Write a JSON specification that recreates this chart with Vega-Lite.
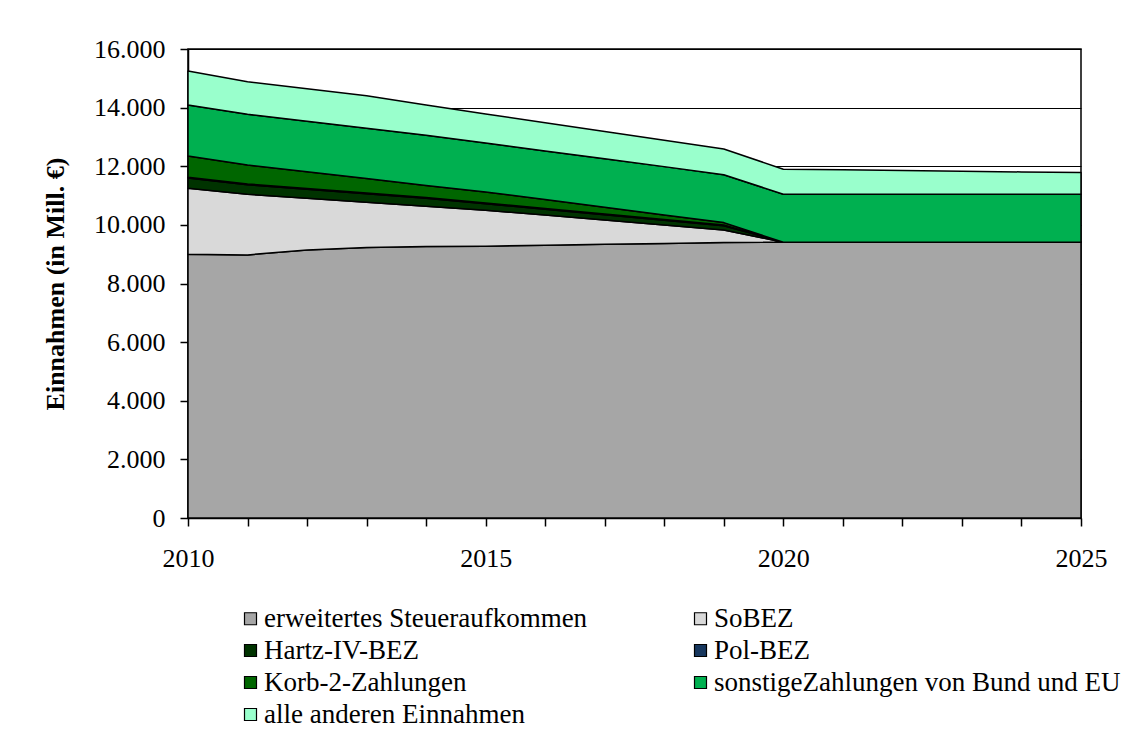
{
  "$schema": "https://vega.github.io/schema/vega-lite/v6.json",
  "width": 893,
  "height": 469,
  "autosize": {"type": "none"},
  "padding": {"left": 188, "top": 49, "right": 51, "bottom": 224},
  "background": "white",
  "config": {
    "locale": {"number": {"decimal": ",", "thousands": ".", "grouping": [3], "currency": ["", " €"]}},
    "view": {"stroke": "black", "strokeWidth": 1.5},
    "font": "Liberation Serif",
    "axis": {
      "labelFont": "Liberation Serif", "labelFontSize": 26, "labelColor": "black",
      "titleFont": "Liberation Serif", "titleFontSize": 26, "titleColor": "black",
      "domainColor": "black", "domainWidth": 1.5, "tickColor": "black", "tickWidth": 1.5, "tickSize": 8,
      "gridColor": "black", "gridWidth": 1.2, "gridOpacity": 1
    },
    "legend": {"labelFont": "Liberation Serif", "labelFontSize": 27, "labelColor": "black"}
  },
  "datasets": {
    "reihen": [
      {"Reihe": "erweitertes Steueraufkommen", "Nr": 1},
      {"Reihe": "SoBEZ", "Nr": 2},
      {"Reihe": "Hartz-IV-BEZ", "Nr": 3},
      {"Reihe": "Pol-BEZ", "Nr": 4},
      {"Reihe": "Korb-2-Zahlungen", "Nr": 5},
      {"Reihe": "sonstigeZahlungen von Bund und EU", "Nr": 6},
      {"Reihe": "alle anderen Einnahmen", "Nr": 7}
    ]
  },
  "data": {
    "values": [
      {"Jahr": 2010, "erweitertes Steueraufkommen": 9000, "SoBEZ": 2250, "Hartz-IV-BEZ": 349, "Pol-BEZ": 26, "Korb-2-Zahlungen": 726, "sonstigeZahlungen von Bund und EU": 1738, "alle anderen Einnahmen": 1160},
      {"Jahr": 2011, "erweitertes Steueraufkommen": 8976, "SoBEZ": 2069, "Hartz-IV-BEZ": 325, "Pol-BEZ": 26, "Korb-2-Zahlungen": 648, "sonstigeZahlungen von Bund und EU": 1728, "alle anderen Einnahmen": 1112},
      {"Jahr": 2012, "erweitertes Steueraufkommen": 9146, "SoBEZ": 1763, "Hartz-IV-BEZ": 307, "Pol-BEZ": 26, "Korb-2-Zahlungen": 569, "sonstigeZahlungen von Bund und EU": 1722, "alle anderen Einnahmen": 1113},
      {"Jahr": 2013, "erweitertes Steueraufkommen": 9225, "SoBEZ": 1545, "Hartz-IV-BEZ": 291, "Pol-BEZ": 26, "Korb-2-Zahlungen": 491, "sonstigeZahlungen von Bund und EU": 1717, "alle anderen Einnahmen": 1113},
      {"Jahr": 2014, "erweitertes Steueraufkommen": 9259, "SoBEZ": 1377, "Hartz-IV-BEZ": 270, "Pol-BEZ": 26, "Korb-2-Zahlungen": 414, "sonstigeZahlungen von Bund und EU": 1710, "alle anderen Einnahmen": 1037},
      {"Jahr": 2015, "erweitertes Steueraufkommen": 9272, "SoBEZ": 1228, "Hartz-IV-BEZ": 222, "Pol-BEZ": 26, "Korb-2-Zahlungen": 375, "sonstigeZahlungen von Bund und EU": 1671, "alle anderen Einnahmen": 989},
      {"Jahr": 2016, "erweitertes Steueraufkommen": 9306, "SoBEZ": 1027, "Hartz-IV-BEZ": 199, "Pol-BEZ": 26, "Korb-2-Zahlungen": 304, "sonstigeZahlungen von Bund und EU": 1659, "alle anderen Einnahmen": 966},
      {"Jahr": 2017, "erweitertes Steueraufkommen": 9340, "SoBEZ": 825, "Hartz-IV-BEZ": 180, "Pol-BEZ": 26, "Korb-2-Zahlungen": 231, "sonstigeZahlungen von Bund und EU": 1650, "alle anderen Einnahmen": 934},
      {"Jahr": 2018, "erweitertes Steueraufkommen": 9368, "SoBEZ": 630, "Hartz-IV-BEZ": 162, "Pol-BEZ": 26, "Korb-2-Zahlungen": 153, "sonstigeZahlungen von Bund und EU": 1648, "alle anderen Einnahmen": 902},
      {"Jahr": 2019, "erweitertes Steueraufkommen": 9396, "SoBEZ": 432, "Hartz-IV-BEZ": 145, "Pol-BEZ": 26, "Korb-2-Zahlungen": 78, "sonstigeZahlungen von Bund und EU": 1636, "alle anderen Einnahmen": 877},
      {"Jahr": 2020, "erweitertes Steueraufkommen": 9409, "SoBEZ": 0, "Hartz-IV-BEZ": 0, "Pol-BEZ": 0, "Korb-2-Zahlungen": 0, "sonstigeZahlungen von Bund und EU": 1636, "alle anderen Einnahmen": 855},
      {"Jahr": 2021, "erweitertes Steueraufkommen": 9409, "SoBEZ": 0, "Hartz-IV-BEZ": 0, "Pol-BEZ": 0, "Korb-2-Zahlungen": 0, "sonstigeZahlungen von Bund und EU": 1636, "alle anderen Einnahmen": 832},
      {"Jahr": 2022, "erweitertes Steueraufkommen": 9410, "SoBEZ": 0, "Hartz-IV-BEZ": 0, "Pol-BEZ": 0, "Korb-2-Zahlungen": 0, "sonstigeZahlungen von Bund und EU": 1636, "alle anderen Einnahmen": 809},
      {"Jahr": 2023, "erweitertes Steueraufkommen": 9410, "SoBEZ": 0, "Hartz-IV-BEZ": 0, "Pol-BEZ": 0, "Korb-2-Zahlungen": 0, "sonstigeZahlungen von Bund und EU": 1636, "alle anderen Einnahmen": 786},
      {"Jahr": 2024, "erweitertes Steueraufkommen": 9410, "SoBEZ": 0, "Hartz-IV-BEZ": 0, "Pol-BEZ": 0, "Korb-2-Zahlungen": 0, "sonstigeZahlungen von Bund und EU": 1636, "alle anderen Einnahmen": 760},
      {"Jahr": 2025, "erweitertes Steueraufkommen": 9410, "SoBEZ": 0, "Hartz-IV-BEZ": 0, "Pol-BEZ": 0, "Korb-2-Zahlungen": 0, "sonstigeZahlungen von Bund und EU": 1636, "alle anderen Einnahmen": 737}
    ]
  },
  "transform": [
    {"fold": ["erweitertes Steueraufkommen", "SoBEZ", "Hartz-IV-BEZ", "Pol-BEZ", "Korb-2-Zahlungen", "sonstigeZahlungen von Bund und EU", "alle anderen Einnahmen"], "as": ["Reihe", "Wert"]},
    {"lookup": "Reihe", "from": {"data": {"name": "reihen"}, "key": "Reihe", "fields": ["Nr"]}}
  ],
  "mark": {"type": "area", "stroke": "black", "strokeWidth": 1.5, "strokeJoin": "round", "interpolate": "linear", "fillOpacity": 1},
  "encoding": {
    "x": {
      "field": "Jahr", "type": "quantitative",
      "scale": {"domain": [2010, 2025], "nice": false, "zero": false},
      "axis": {
        "title": null, "grid": false,
        "values": [2010, 2011, 2012, 2013, 2014, 2015, 2016, 2017, 2018, 2019, 2020, 2021, 2022, 2023, 2024, 2025],
        "labelExpr": "datum.value % 5 === 0 ? '' + datum.value : ''",
        "labelPadding": 19, "labelFlush": false, "labelOverlap": false
      }
    },
    "y": {
      "field": "Wert", "type": "quantitative", "stack": "zero",
      "scale": {"domain": [0, 16000], "nice": false},
      "axis": {
        "title": "Einnahmen (in Mill. €)", "titleFontWeight": "bold", "titlePadding": 25,
        "values": [0, 2000, 4000, 6000, 8000, 10000, 12000, 14000, 16000],
        "format": ",d", "labelPadding": 15, "grid": true
      }
    },
    "color": {
      "field": "Reihe", "type": "nominal",
      "scale": {
        "domain": ["erweitertes Steueraufkommen", "Hartz-IV-BEZ", "Korb-2-Zahlungen", "alle anderen Einnahmen", "SoBEZ", "Pol-BEZ", "sonstigeZahlungen von Bund und EU"],
        "range": ["#A6A6A6", "#003300", "#006600", "#99FFCC", "#D9D9D9", "#17375E", "#00B050"]
      },
      "legend": {
        "title": null, "orient": "none", "legendX": 49, "legendY": 556,
        "columns": 2, "columnPadding": 99, "rowPadding": 4,
        "symbolType": "square", "symbolSize": 144, "symbolStrokeColor": "black", "symbolStrokeWidth": 1.2,
        "symbolOpacity": 1, "labelOffset": 0, "labelLimit": 600
      }
    },
    "order": {"field": "Nr", "type": "quantitative", "sort": "ascending"}
  }
}
